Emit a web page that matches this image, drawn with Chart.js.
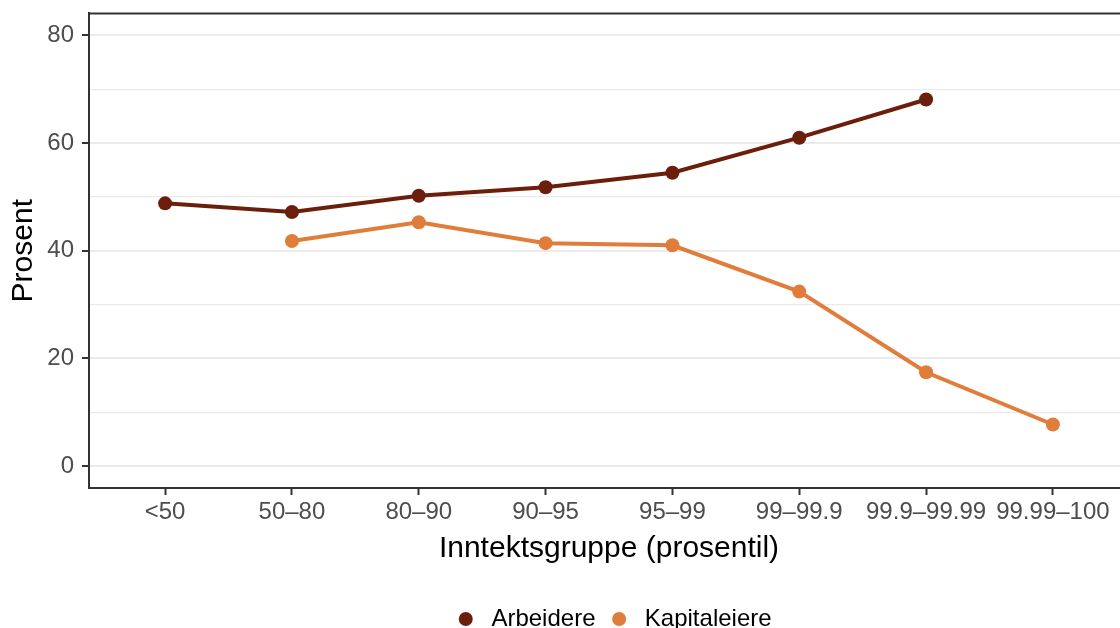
<!DOCTYPE html>
<html lang="no">
<head>
    <meta charset="UTF-8">
    <title>Arbeidere og kapitaleiere</title>
    <script src="https://cdn.jsdelivr.net/npm/chart.js@4.4.1/dist/chart.umd.min.js"></script>
    <style>
        html, body { margin: 0; padding: 0; background: #fff; overflow: hidden; }
        #wrap { position: absolute; left: 0; top: -9px; width: 1242px; height: 650px; }
    </style>
</head>
<body>
<div id="wrap">
    <canvas id="myChart" width="1242" height="650"></canvas>
</div>

<script type="text/javascript">
    // data
    var categories = ["<50", "50–80", "80–90", "90–95", "95–99", "99–99.9", "99.9–99.99", "99.99–100"];
    var arbeidere = [48.8, 47.2, 50.2, 51.8, 54.5, 61.0, 68.1, null];
    var kapitaleiere = [null, 41.8, 45.3, 41.4, 41.0, 32.4, 17.4, 7.7];
    var yTicks = [0, 10, 20, 30, 40, 50, 60, 70, 80];
    var yLabels = [0, 20, 40, 60, 80];

    var font = "'Liberation Sans', Arial, sans-serif";

    function toPoints(values) {
        var pts = [];
        for (var i = 0; i < values.length; i++) {
            pts.push({x: i, y: values[i]});
        }
        return pts;
    }

    function isMajor(v) {
        return yLabels.indexOf(v) >= 0;
    }

    // top edge of the panel box
    var frame = {
        id: 'frame',
        afterDraw: function (chart) {
            var a = chart.chartArea, ctx = chart.ctx;
            ctx.save();
            ctx.strokeStyle = '#333333';
            ctx.lineWidth = 2;
            ctx.beginPath();
            ctx.moveTo(a.left - 1, a.top);
            ctx.lineTo(a.right + 1, a.top);
            ctx.lineTo(a.right + 1, a.bottom + 1);
            ctx.stroke();
            ctx.restore();
        }
    };

    new Chart(document.getElementById("myChart"), {
        type: "line",
        data: {
            datasets: [{
                label: "Arbeidere",
                data: toPoints(arbeidere),
                borderColor: "#6b1f0b",
                backgroundColor: "#6b1f0b",
                borderWidth: 4,
                pointRadius: 7,
                pointHoverRadius: 7,
                pointBorderWidth: 0,
                pointStyle: "circle",
                tension: 0
            }, {
                label: "Kapitaleiere",
                data: toPoints(kapitaleiere),
                borderColor: "#e07d3b",
                backgroundColor: "#e07d3b",
                borderWidth: 4,
                pointRadius: 7,
                pointHoverRadius: 7,
                pointBorderWidth: 0,
                pointStyle: "circle",
                tension: 0
            }]
        },
        options: {
            responsive: false,
            animation: false,
            layout: {padding: {top: 14, right: 5, bottom: 0, left: 0}},
            plugins: {
                tooltip: {enabled: false},
                legend: {
                    position: "bottom",
                    labels: {
                        usePointStyle: true,
                        boxHeight: 10,
                        pointStyleWidth: 14,
                        padding: 10,
                        color: "#000",
                        font: {family: font, size: 24},
                        generateLabels: function (chart) {
                            var items = Chart.defaults.plugins.legend.labels.generateLabels(chart);
                            items.forEach(function (it) { it.text = " " + it.text + " "; });
                            return items;
                        }
                    }
                }
            },
            scales: {
                x: {
                    type: "linear",
                    min: -0.6,
                    max: 7.6,
                    afterBuildTicks: function (scale) {
                        scale.ticks = categories.map(function (c, i) { return {value: i}; });
                    },
                    afterFit: function (scale) { scale.height = 109; },
                    ticks: {
                        autoSkip: false,
                        maxRotation: 0,
                        padding: 3,
                        color: "#4d4d4d",
                        font: {family: font, size: 24},
                        callback: function (v) { return categories[v]; }
                    },
                    grid: {
                        drawOnChartArea: false,
                        drawTicks: true,
                        tickLength: 7,
                        tickColor: "#333333",
                        tickWidth: 2
                    },
                    border: {display: true, color: "#333333", width: 2},
                    title: {
                        display: true,
                        text: "Inntektsgruppe (prosentil)",
                        color: "#000",
                        font: {family: font, size: 30},
                        padding: {top: 0, bottom: 30}
                    }
                },
                y: {
                    min: -4.1,
                    max: 84.1,
                    afterBuildTicks: function (scale) {
                        scale.ticks = yTicks.map(function (v) { return {value: v}; });
                    },
                    afterFit: function (scale) { scale.width = 89; },
                    ticks: {
                        padding: 8,
                        color: "#4d4d4d",
                        font: {family: font, size: 24},
                        callback: function (v) { return isMajor(v) ? v : ""; }
                    },
                    grid: {
                        drawTicks: true,
                        tickLength: 7,
                        color: "#ebebeb",
                        lineWidth: function (c) { return c.tick && isMajor(c.tick.value) ? 2 : 1.2; },
                        tickColor: function (c) { return c.tick && isMajor(c.tick.value) ? "#333333" : "rgba(0,0,0,0)"; },
                        tickWidth: 2
                    },
                    border: {display: true, color: "#333333", width: 2},
                    title: {
                        display: true,
                        text: "Prosent",
                        color: "#000",
                        font: {family: font, size: 30},
                        padding: {top: 6, bottom: 0}
                    }
                },
                // empty right-hand margin (outside the visible window)
                yRight: {
                    position: "right",
                    min: 0,
                    max: 1,
                    afterFit: function (scale) { scale.width = 108; },
                    ticks: {display: false},
                    grid: {display: false},
                    border: {display: false}
                }
            }
        },
        plugins: [frame]
    });
</script>
</body>
</html>
